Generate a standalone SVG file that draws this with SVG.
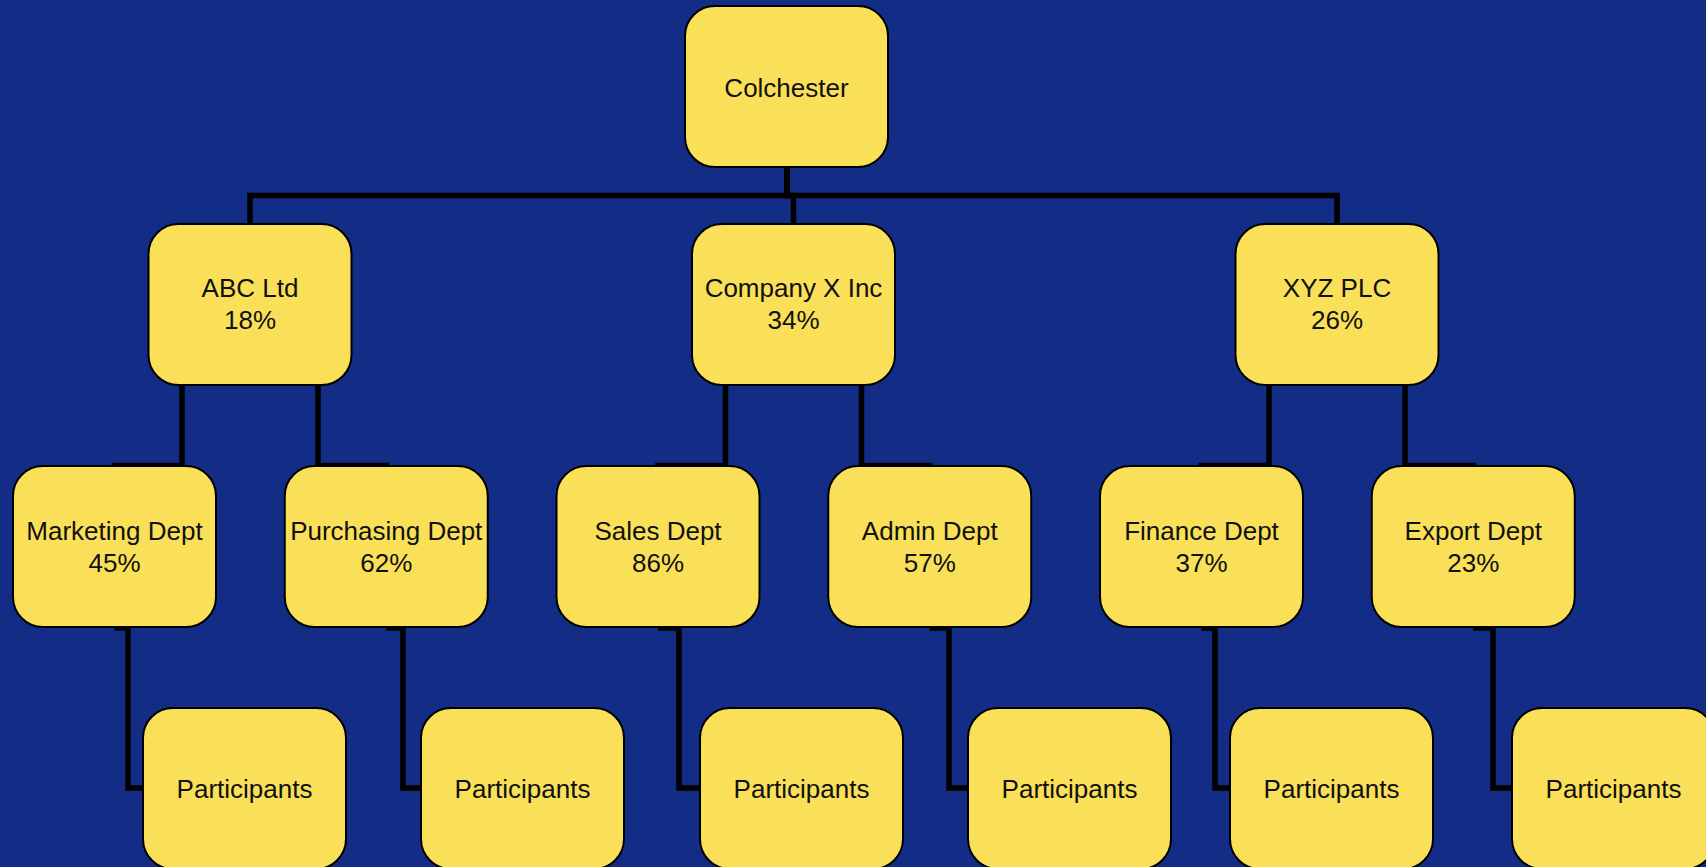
<svg xmlns="http://www.w3.org/2000/svg" width="1706" height="867" viewBox="0 0 1706 867">
<style>
.bx{fill:#FAE058;stroke:#000;stroke-width:2}
.t{font-family:"Liberation Sans",Arial,sans-serif;font-size:26px;fill:#111;text-anchor:middle}
.c{fill:none;stroke:#000;stroke-width:5.5;stroke-linejoin:miter}
</style>
<rect width="1706" height="867" fill="#132D87"/>
<g id="connectors">
<path class="c" d="M787,167 V195.5 H250 V224"/>
<path class="c" d="M787,167 V195.5 H793.5 V224"/>
<path class="c" d="M787,167 V195.5 H1337 V224"/>
<path class="c" d="M182,385 V465.5 H114.5 V467"/>
<path class="c" d="M318,385 V465.5 H386.25 V467"/>
<path class="c" d="M725.5,385 V465.5 H658 V467"/>
<path class="c" d="M861.5,385 V465.5 H929.75 V467"/>
<path class="c" d="M1269,385 V465.5 H1201.5 V467"/>
<path class="c" d="M1405,385 V465.5 H1473.25 V467"/>
<path class="c" d="M114.5,628 H128 V788 H143"/>
<path class="c" d="M386.25,628 H403 V788 H421"/>
<path class="c" d="M658,628 H679 V788 H700"/>
<path class="c" d="M929.75,628 H949 V788 H968"/>
<path class="c" d="M1201.5,628 H1215 V788 H1230"/>
<path class="c" d="M1473.25,628 H1493 V788 H1512"/>
</g>
<g id="colchester"><rect class="bx" x="685" y="6" width="203" height="161" rx="30"/><text class="t" x="786.5" y="96.5">Colchester</text></g>
<g id="abc"><rect class="bx" x="148.5" y="224" width="203" height="161" rx="30"/><text class="t" x="250" y="297">ABC Ltd</text><text class="t" x="250" y="329">18%</text></g>
<g id="companyx"><rect class="bx" x="692" y="224" width="203" height="161" rx="30"/><text class="t" x="793.5" y="297">Company X Inc</text><text class="t" x="793.5" y="329">34%</text></g>
<g id="xyz"><rect class="bx" x="1235.5" y="224" width="203" height="161" rx="30"/><text class="t" x="1337" y="297">XYZ PLC</text><text class="t" x="1337" y="329">26%</text></g>
<g id="marketing"><rect class="bx" x="13" y="466" width="203" height="161" rx="30"/><text class="t" x="114.5" y="540">Marketing Dept</text><text class="t" x="114.5" y="572">45%</text></g>
<g id="purchasing"><rect class="bx" x="284.75" y="466" width="203" height="161" rx="30"/><text class="t" x="386.25" y="540">Purchasing Dept</text><text class="t" x="386.25" y="572">62%</text></g>
<g id="sales"><rect class="bx" x="556.5" y="466" width="203" height="161" rx="30"/><text class="t" x="658" y="540">Sales Dept</text><text class="t" x="658" y="572">86%</text></g>
<g id="admin"><rect class="bx" x="828.25" y="466" width="203" height="161" rx="30"/><text class="t" x="929.75" y="540">Admin Dept</text><text class="t" x="929.75" y="572">57%</text></g>
<g id="finance"><rect class="bx" x="1100" y="466" width="203" height="161" rx="30"/><text class="t" x="1201.5" y="540">Finance Dept</text><text class="t" x="1201.5" y="572">37%</text></g>
<g id="export"><rect class="bx" x="1371.75" y="466" width="203" height="161" rx="30"/><text class="t" x="1473.25" y="540">Export Dept</text><text class="t" x="1473.25" y="572">23%</text></g>
<g id="participants1"><rect class="bx" x="143" y="708" width="203" height="161" rx="30"/><text class="t" x="244.5" y="798">Participants</text></g>
<g id="participants2"><rect class="bx" x="421" y="708" width="203" height="161" rx="30"/><text class="t" x="522.5" y="798">Participants</text></g>
<g id="participants3"><rect class="bx" x="700" y="708" width="203" height="161" rx="30"/><text class="t" x="801.5" y="798">Participants</text></g>
<g id="participants4"><rect class="bx" x="968" y="708" width="203" height="161" rx="30"/><text class="t" x="1069.5" y="798">Participants</text></g>
<g id="participants5"><rect class="bx" x="1230" y="708" width="203" height="161" rx="30"/><text class="t" x="1331.5" y="798">Participants</text></g>
<g id="participants6"><rect class="bx" x="1512" y="708" width="203" height="161" rx="30"/><text class="t" x="1613.5" y="798">Participants</text></g>
</svg>
